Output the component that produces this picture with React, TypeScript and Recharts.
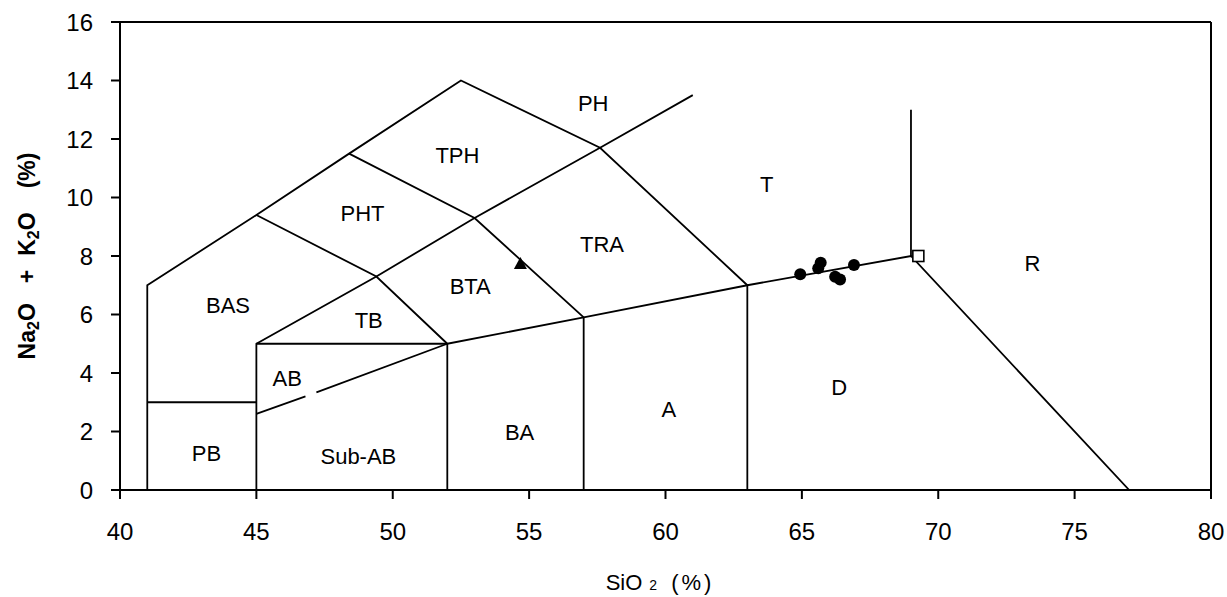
import React from 'react';
import { ComposedChart, Line, Scatter, XAxis, YAxis, ReferenceLine, Label } from 'recharts';

const xTicks = [40, 45, 50, 55, 60, 65, 70, 75, 80];
const yTicks = [0, 2, 4, 6, 8, 10, 12, 14, 16];

// TAS field boundaries (SiO2, Na2O+K2O)
const boundaryOuter = [
  { x: 41, y: 0 }, { x: 41, y: 7 }, { x: 45, y: 9.4 }, { x: 48.4, y: 11.5 },
  { x: 52.5, y: 14 }, { x: 57.6, y: 11.7 }, { x: 63, y: 7 }, { x: 63, y: 0 },
];
const boundaryPB = [{ x: 41, y: 3 }, { x: 45, y: 3 }];
const boundaryAlk = [
  { x: 45, y: 0 }, { x: 45, y: 5 }, { x: 49.4, y: 7.3 }, { x: 53, y: 9.3 },
  { x: 57.6, y: 11.7 }, { x: 61, y: 13.5 },
];
const boundaryBase = [
  { x: 45, y: 5 }, { x: 52, y: 5 }, { x: 57, y: 5.9 }, { x: 63, y: 7 },
  { x: 69, y: 8 }, { x: 77, y: 0 },
];
const boundaryTB = [{ x: 45, y: 9.4 }, { x: 49.4, y: 7.3 }, { x: 52, y: 5 }, { x: 52, y: 0 }];
const boundaryBTA = [{ x: 48.4, y: 11.5 }, { x: 53, y: 9.3 }, { x: 57, y: 5.9 }, { x: 57, y: 0 }];
const boundaryTR = [{ x: 69, y: 8 }, { x: 69, y: 13 }];
const dividerA = [{ x: 45, y: 2.6 }, { x: 46.8, y: 3.2 }];
const dividerB = [{ x: 47.2, y: 3.34 }, { x: 52, y: 5 }];

const boundaries = [
  boundaryOuter, boundaryPB, boundaryAlk, boundaryBase, boundaryTB,
  boundaryBTA, boundaryTR, dividerA, dividerB,
];

// field names
const fieldNames = ['PH', 'TPH', 'PHT', 'T', 'TRA', 'BTA', 'BAS', 'TB', 'R', 'AB', 'D', 'A', 'BA', 'PB', 'Sub-AB'];
const fieldX = [57.35, 52.37, 48.89, 63.71, 57.67, 52.84, 43.96, 49.12, 73.45, 46.13, 66.37, 60.12, 54.65, 43.17, 48.74];
const fieldY = [13.23, 11.42, 9.46, 10.46, 8.38, 6.95, 6.32, 5.79, 7.75, 3.82, 3.5, 2.74, 1.98, 1.26, 1.14];
const fieldLabels = fieldNames.map((name, i) => ({ name, x: fieldX[i], y: fieldY[i] }));

// samples
const circleSiO2 = [64.94, 65.69, 65.6, 66.22, 66.4, 66.91];
const circleAlk = [7.38, 7.77, 7.58, 7.29, 7.2, 7.69];
const circles = circleSiO2.map((x, i) => ({ x, y: circleAlk[i] }));
const triangles = [{ x: 54.68, y: 7.73 }];
const squares = [{ x: 69.27, y: 8.0 }];

const FONT = '"Liberation Sans", Arial, sans-serif';

const CircleShape = (p: any) => <circle cx={p.cx} cy={p.cy} r={6} fill="#000" />;
const TriangleShape = (p: any) => (
  <polygon points={`${p.cx - 6.5},${p.cy + 5} ${p.cx + 6.5},${p.cy + 5} ${p.cx},${p.cy - 7}`} fill="#000" />
);
const SquareShape = (p: any) => (
  <rect x={p.cx - 5.5} y={p.cy - 5.5} width={11} height={11} fill="#fff" stroke="#000" strokeWidth={1.6} />
);
const TextShape = (p: any) => (
  <text x={p.cx} y={p.cy} textAnchor="middle" dominantBaseline="central" fontFamily={FONT} fontSize={22} fill="#000">
    {p.payload.name}
  </text>
);

const YLabel = (props: any) => {
  const vb = props.viewBox;
  const cx = vb.x - 25;
  const cy = vb.y + vb.height / 2;
  return (
    <text
      transform={`translate(${cx}, ${cy}) rotate(-90)`}
      x={0}
      y={0}
      textAnchor="middle"
      fontFamily={FONT}
      fontWeight="bold"
      fontSize={23}
      fill="#000"
    >
      <tspan>Na</tspan>
      <tspan fontSize={16} dy={4}>2</tspan>
      <tspan dy={-4}>O</tspan>
      <tspan dx={20}>+</tspan>
      <tspan dx={14}>K</tspan>
      <tspan fontSize={16} dy={4}>2</tspan>
      <tspan dy={-4}>O</tspan>
      <tspan dx={24}>(%)</tspan>
    </text>
  );
};

const XLabel = (props: any) => {
  const vb = props.viewBox;
  const cx = vb.x + vb.width / 2 - 5.5;
  const by = vb.y + 100;
  return (
    <text x={cx} y={by} textAnchor="middle" fontFamily={FONT} fontSize={22} fill="#000">
      <tspan>SiO</tspan>
      <tspan fontSize={14} dx={7}>2</tspan>
      <tspan dx={14} letterSpacing={3}>(%)</tspan>
    </text>
  );
};

export default function App() {
  return (
    <div style={{ position: 'absolute', left: 0, top: 0, background: '#fff' }}>
      <ComposedChart width={1227} height={597} margin={{ top: 22, right: 16, bottom: 47, left: 60 }}>
        <XAxis
          type="number"
          dataKey="x"
          domain={[40, 80]}
          ticks={xTicks}
          allowDataOverflow
          tickSize={9}
          tickMargin={24}
          height={60}
          axisLine={{ stroke: '#000', strokeWidth: 2 }}
          tickLine={{ stroke: '#000', strokeWidth: 2 }}
          tick={{ fill: '#000', fontSize: 24, fontFamily: FONT }}
        >
          <Label content={XLabel} />
        </XAxis>
        <YAxis
          type="number"
          dataKey="y"
          domain={[0, 16]}
          ticks={yTicks}
          allowDataOverflow
          width={60}
          tickSize={9}
          tickMargin={18}
          axisLine={{ stroke: '#000', strokeWidth: 2 }}
          tickLine={{ stroke: '#000', strokeWidth: 2 }}
          tick={{ fill: '#000', fontSize: 24, fontFamily: FONT }}
        >
          <Label content={YLabel} />
        </YAxis>
        <ReferenceLine y={16} stroke="#000" strokeWidth={2} />
        <ReferenceLine x={80} stroke="#000" strokeWidth={2} />
        {boundaries.map((seg, i) => (
          <Line
            key={'b' + i}
            data={seg}
            dataKey="y"
            stroke="#000"
            strokeWidth={1.8}
            dot={false}
            activeDot={false}
            isAnimationActive={false}
            type="linear"
          />
        ))}
        <Scatter data={fieldLabels} dataKey="y" shape={TextShape} isAnimationActive={false} />
        <Scatter data={circles} dataKey="y" shape={CircleShape} isAnimationActive={false} />
        <Scatter data={triangles} dataKey="y" shape={TriangleShape} isAnimationActive={false} />
        <Scatter data={squares} dataKey="y" shape={SquareShape} isAnimationActive={false} />
      </ComposedChart>
    </div>
  );
}
